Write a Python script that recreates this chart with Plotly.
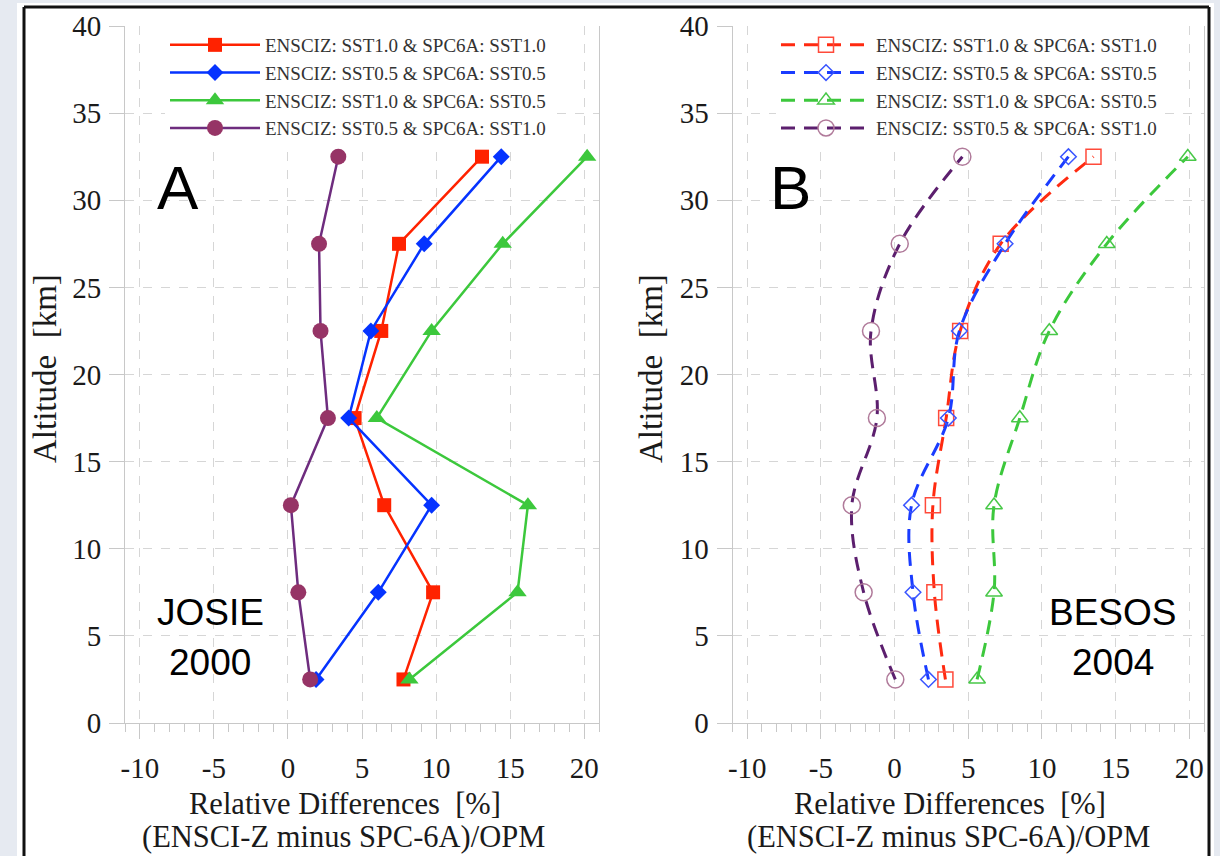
import plotly.graph_objects as go

W, H = 1220, 856

# ---------------- data ----------------
altitude_km = [2.5, 7.5, 12.5, 17.5, 22.5, 27.5, 32.5]

series_names = [
    "ENSCIZ: SST1.0 & SPC6A: SST1.0",
    "ENSCIZ: SST0.5 & SPC6A: SST0.5",
    "ENSCIZ: SST1.0 & SPC6A: SST0.5",
    "ENSCIZ: SST0.5 & SPC6A: SST1.0",
]

# Panel A: JOSIE 2000
josie_sst10_sst10 = [7.8, 9.8, 6.5, 4.5, 6.3, 7.5, 13.1]
josie_sst05_sst05 = [1.9, 6.1, 9.7, 4.1, 5.6, 9.2, 14.4]
josie_sst10_sst05 = [8.2, 15.5, 16.2, 6.0, 9.7, 14.5, 20.2]
josie_sst05_sst10 = [1.5, 0.7, 0.2, 2.7, 2.2, 2.1, 3.4]

# Panel B: BESOS 2004
besos_sst10_sst10 = [3.45, 2.7, 2.6, 3.5, 4.45, 7.2, 13.5]
besos_sst05_sst05 = [2.3, 1.25, 1.15, 3.65, 4.4, 7.5, 11.8]
besos_sst10_sst05 = [5.6, 6.75, 6.75, 8.5, 10.5, 14.4, 19.9]
besos_sst05_sst10 = [0.05, -2.1, -2.9, -1.2, -1.6, 0.35, 4.6]

x_ticks = [-10, -5, 0, 5, 10, 15, 20]
y_ticks = [0, 5, 10, 15, 20, 25, 30, 35, 40]

# ---------------- styles ----------------
SERIF = "Liberation Serif, Times New Roman, serif"
SANS = "Liberation Sans, Arial, sans-serif"

def px_x(p):
    return p / W

def px_y(p):
    return 1 - p / H

styleA = [
    dict(line=dict(color="#ff2200", width=2.5), marker=dict(symbol="square", size=14, color="#ff2200")),
    dict(line=dict(color="#0533ff", width=2.5), marker=dict(symbol="diamond", size=13, color="#0533ff")),
    dict(line=dict(color="#3cc83c", width=2.5), marker=dict(symbol="triangle-up", size=16, color="#3cc83c")),
    dict(line=dict(color="#6e2c7e", width=2.5), marker=dict(symbol="circle", size=16, color="#963466")),
]
styleB = [
    dict(line=dict(color="#ff2a10", width=3, dash="14px,9px", shape="spline"),
         marker=dict(symbol="square-open", size=15, color="#ff4a3a", line=dict(width=1.5))),
    dict(line=dict(color="#1a3cff", width=3, dash="14px,9px", shape="spline"),
         marker=dict(symbol="diamond-open", size=12, color="#3a55ff", line=dict(width=1.5))),
    dict(line=dict(color="#3cc83c", width=3, dash="14px,9px", shape="spline"),
         marker=dict(symbol="triangle-up-open", size=14.5, color="#48c848", line=dict(width=1.5))),
    dict(line=dict(color="#5c1f6e", width=3, dash="14px,9px", shape="spline"),
         marker=dict(symbol="circle-open", size=17, color="#b07a9a", line=dict(width=1.5))),
]

fig = go.Figure()

for name, vals, st in zip(series_names,
                          [josie_sst10_sst10, josie_sst05_sst05, josie_sst10_sst05, josie_sst05_sst10],
                          styleA):
    fig.add_trace(go.Scatter(x=vals, y=altitude_km, name=name, mode="lines+markers",
                             xaxis="x", yaxis="y", legend="legend", **st))

for name, vals, st in zip(series_names,
                          [besos_sst10_sst10, besos_sst05_sst05, besos_sst10_sst05, besos_sst05_sst10],
                          styleB):
    fig.add_trace(go.Scatter(x=vals, y=altitude_km, name=name, mode="lines+markers",
                             xaxis="x2", yaxis="y2", legend="legend2", **st))

GRID = "#d6d6d6"
AXC = "#c8c8c8"
tickfont = dict(family=SERIF, size=29, color="#1a1a1a")

def xaxis_cfg(domain, anchor):
    return dict(
        domain=domain, anchor=anchor, range=[-11, 21], tickvals=x_ticks,
        ticktext=[str(v) for v in x_ticks],
        ticks="outside", ticklen=15, tickwidth=1, tickcolor=AXC,
        showgrid=True, gridcolor=GRID, griddash="dash", gridwidth=1,
        showline=True, linecolor=AXC, linewidth=1, mirror=False, zeroline=False,
        minor=dict(dtick=1, ticks="outside", ticklen=8, tickcolor=AXC, showgrid=False),
        tickfont=tickfont, ticklabelstandoff=4, automargin=False,
    )

def yaxis_cfg(domain, anchor):
    return dict(
        domain=domain, anchor=anchor, range=[0, 40], tickvals=y_ticks,
        ticks="outside", ticklen=15, tickwidth=1, tickcolor=AXC,
        showgrid=True, gridcolor=GRID, griddash="dash", gridwidth=1,
        showline=True, linecolor=AXC, linewidth=1, mirror=True, zeroline=False,
        tickfont=tickfont, ticklabelstandoff=2, automargin=False,
    )

ydom = [px_y(723), px_y(26)]
legend_common = dict(
    font=dict(family=SERIF, size=19, color="#333333"),
    bgcolor="white", borderwidth=0, itemwidth=90,
    xanchor="left", yanchor="top", tracegroupgap=0,
    itemclick=False, itemdoubleclick=False,
)

fig.update_layout(
    width=W, height=H,
    margin=dict(l=0, r=0, t=0, b=0, pad=0, autoexpand=False),
    paper_bgcolor="#e6eaf1",
    plot_bgcolor="white",
    xaxis=xaxis_cfg([px_x(125), px_x(599)], "y"),
    yaxis=yaxis_cfg(ydom, "x"),
    xaxis2=xaxis_cfg([px_x(732.5), px_x(1204)], "y2"),
    yaxis2=yaxis_cfg(ydom, "x2"),
    legend=dict(x=px_x(165), y=px_y(26), **legend_common),
    legend2=dict(x=px_x(776), y=px_y(26), **legend_common),
    showlegend=True,
)

# white page with a black frame
fig.add_shape(type="rect", xref="paper", yref="paper",
              x0=px_x(17), x1=px_x(1214), y0=px_y(900), y1=px_y(3),
              fillcolor="white", line=dict(width=0), layer="below")
frame = dict(color="#111111", width=3)
fig.add_shape(type="line", xref="paper", yref="paper",
              x0=px_x(24), x1=px_x(24), y0=px_y(900), y1=px_y(7), line=frame, layer="above")
fig.add_shape(type="line", xref="paper", yref="paper",
              x0=px_x(1209), x1=px_x(1209), y0=px_y(900), y1=px_y(7), line=frame, layer="above")
fig.add_shape(type="line", xref="paper", yref="paper",
              x0=px_x(24), x1=px_x(1209), y0=px_y(7), y1=px_y(7), line=frame, layer="above")

ann = []
def text(xp, yp, s, font, angle=0):
    ann.append(dict(x=px_x(xp), y=px_y(yp), xref="paper", yref="paper", text=s,
                    showarrow=False, xanchor="center", yanchor="middle", font=font,
                    textangle=angle))

titlefont = dict(family=SERIF, size=30.5, color="#1a1a1a")
for cx in (345, 950):
    text(cx, 804, "Relative Differences  [%]", titlefont)
    text(cx - 2, 837, "(ENSCI-Z minus SPC-6A)/OPM", titlefont)
for cx in (45, 651):
    text(cx, 369, "Altitude  [km]", dict(family=SERIF, size=33, color="#1a1a1a"), angle=-90)

text(178, 188, "A", dict(family=SANS, size=62, color="black"))
text(790, 188, "B", dict(family=SANS, size=62, color="black"))
text(210, 612, "JOSIE", dict(family=SANS, size=37, color="black"))
text(210, 662, "2000", dict(family=SANS, size=37, color="black"))
text(1113, 612, "BESOS", dict(family=SANS, size=37, color="black"))
text(1113, 662, "2004", dict(family=SANS, size=37, color="black"))

fig.update_layout(annotations=ann)

fig.write_html(
    "out.html",
    config={"displayModeBar": False},
    post_script="document.body.style.margin='0px';document.documentElement.style.overflow='hidden';",
)
